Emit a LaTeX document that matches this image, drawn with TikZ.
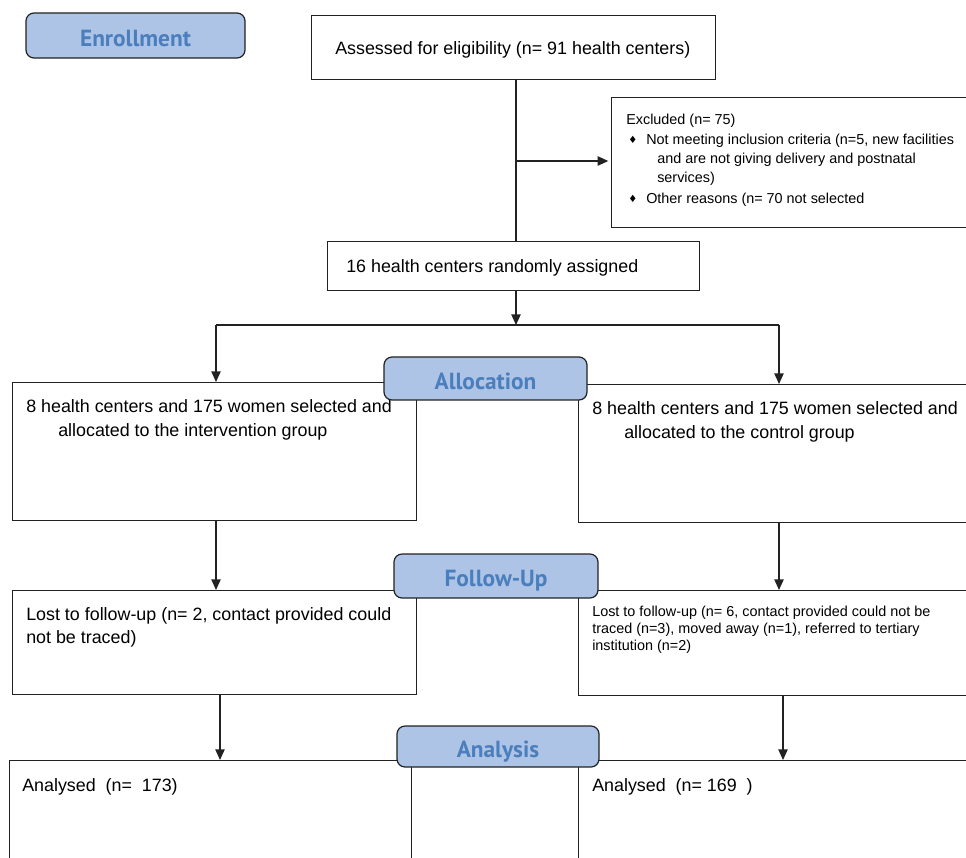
\documentclass[tikz,border=0pt]{standalone}
\usepackage{fontspec}
\setmainfont{Liberation Sans}
\newfontfamily\labelfont{PT Sans}
\newfontfamily\symfont{DejaVu Sans}
\usetikzlibrary{arrows.meta}
\definecolor{lblfill}{HTML}{AEC4E6}
\definecolor{lbltext}{HTML}{4A7EBC}
\definecolor{edge}{HTML}{222222}
\newcommand\mybox[5]{\node[box,minimum width={(#4-#2)*0.75pt},minimum height={(#5-#3)*0.75pt}] (#1) at (#2,#3) {};}
\newcommand\mylabel[6]{\node[lbl,minimum width={(#4-#2)*0.75pt},minimum height={(#5-#3)*0.75pt}] (#1) at ({(#2+#4)/2},{(#3+#5)/2}) {#6};}
\newcommand\dia{{\symfont\fontsize{7.5}{8}\selectfont ♦}}
\begin{document}
\begin{tikzpicture}[x=0.75pt,y=-0.75pt,
  box/.style={draw=edge, line width=0.8pt, inner sep=0pt, anchor=north west},
  lbl/.style={draw=edge, line width=0.9pt, fill=lblfill, rounded corners=6pt, inner sep=0pt, text height=16pt, text depth=0pt, text=lbltext, font=\labelfont\bfseries\fontsize{17.5}{20}\selectfont},
  txt/.style={anchor=base west, inner sep=0pt, font=\fontsize{13.4}{16}\selectfont},
  stxt/.style={anchor=base west, inner sep=0pt, font=\fontsize{10.8}{13}\selectfont},
  arr/.style={draw=edge, line width=1pt, -{Triangle[length=8pt,width=7pt]}},
  ln/.style={draw=edge, line width=1pt}]
\useasboundingbox (0,0) rectangle (966,857);
\clip (0,0) rectangle (966,857);
% boxes
\mybox{asb}{311}{15}{715}{79}
\mybox{exc}{611}{97}{975}{227}
\mybox{rnd}{327}{241}{699}{290}
\mybox{intv}{12}{382}{416}{520}
\mybox{ctrl}{578}{384}{975}{522}
\mybox{lostl}{12}{590}{416}{694}
\mybox{lostr}{578}{590}{975}{695}
\mybox{anl}{9}{760}{411}{875}
\mybox{anr}{578}{760}{975}{875}
% texts
\node[txt] (tasb) at (335,54) {Assessed for eligibility (n= 91 health centers)};
\node[stxt] (te0) at (626,124) {Excluded (n= 75)};
\node[stxt] (tb1) at (628,143) {\dia};
\node[stxt] (te1) at (646,144) {Not meeting inclusion criteria (n=5, new facilities};
\node[stxt] (te2) at (657,163) {and are not giving delivery and postnatal};
\node[stxt] (te3) at (657,182) {services)};
\node[stxt] (tb2) at (628,202) {\dia};
\node[stxt] (te4) at (646,203) {Other reasons (n= 70 not selected};
\node[txt] (trnd) at (346,272) {16 health centers randomly assigned};
\node[txt] (ti1) at (26,412) {8 health centers and 175 women selected and};
\node[txt] (ti2) at (58,436) {allocated to the intervention group};
\node[txt] (tc1) at (592,414) {8 health centers and 175 women selected and};
\node[txt] (tc2) at (624,438) {allocated to the control group};
\node[txt] (tl1) at (26,620) {Lost to follow-up (n= 2, contact provided could};
\node[txt] (tl2) at (26,643) {not be traced)};
\node[stxt] (tr1) at (592,616) {Lost to follow-up (n= 6, contact provided could not be};
\node[stxt] (tr2) at (592,633) {traced (n=3), moved away (n=1), referred to tertiary};
\node[stxt] (tr3) at (592,650) {institution (n=2)};
\node[txt] (tal) at (22,791) {Analysed\ \ (n=\ \ 173)};
\node[txt] (tar) at (592,791) {Analysed\ \ (n= 169\ \ )};
% connector coordinates
\coordinate (jx) at (516,161);
\coordinate (split) at (516,325);
\coordinate (sl) at (216,325);
\coordinate (sr) at (779,325);
\coordinate (cl2) at (220,0);
\coordinate (cr2) at (783,0);
% connectors
\draw[ln] (asb.south -| jx) -- (rnd.north -| jx);
\draw[arr] (jx) -- ([xshift=-2pt]exc.west |- jx);
\draw[arr] (rnd.south -| jx) -- (split);
\draw[ln] (sl) -- (sr);
\draw[arr] (sl) -- (intv.north -| sl);
\draw[arr] (sr) -- (ctrl.north -| sr);
\draw[arr] (intv.south -| sl) -- (lostl.north -| sl);
\draw[arr] (ctrl.south -| sr) -- (lostr.north -| sr);
\draw[arr] (lostl.south -| cl2) -- (anl.north -| cl2);
\draw[arr] (lostr.south -| cr2) -- (anr.north -| cr2);
% stage labels
\mylabel{enr}{26}{13}{245}{58}{Enrollment}
\mylabel{alloc}{384}{357}{587}{400}{Allocation}
\mylabel{fup}{394}{554}{598}{598}{Follow-Up}
\mylabel{ana}{397}{726}{599}{767}{Analysis}
\end{tikzpicture}
\end{document}
